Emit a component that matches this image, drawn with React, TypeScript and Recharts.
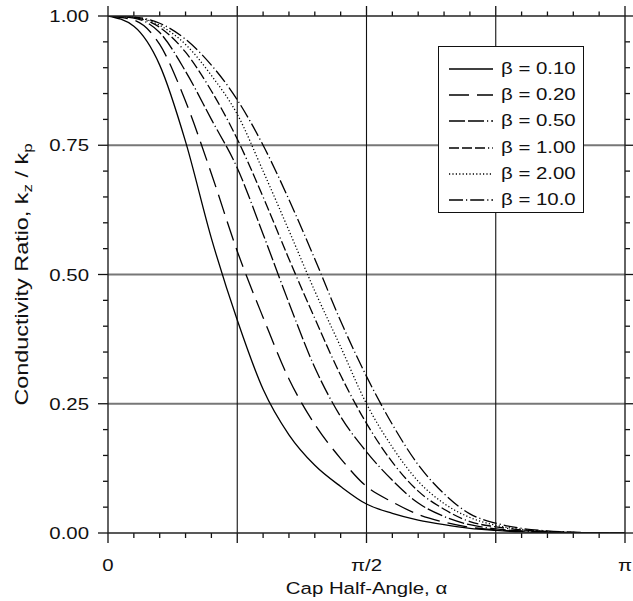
import React from 'react';
import { LineChart, Line, XAxis, YAxis, ReferenceLine, Legend } from 'recharts';

// Cap half-angle, expressed as a fraction of pi
const alphaOverPi = [0, 0.05, 0.1, 0.15, 0.2, 0.25, 0.3, 0.35, 0.4, 0.45, 0.5, 0.55, 0.6, 0.65, 0.7, 0.75, 0.8, 0.85, 0.9, 0.95, 1.0];

// Conductivity ratio kz/kp for each beta
const beta010 = [1.0, 0.98, 0.905, 0.757, 0.57, 0.412, 0.278, 0.19, 0.131, 0.09, 0.056, 0.038, 0.025, 0.016, 0.009, 0.005, 0.002, 0.001, 0.0004, 0.0001, 0];
const beta020 = [1.0, 0.992, 0.945, 0.835, 0.695, 0.545, 0.417, 0.298, 0.21, 0.144, 0.09, 0.06, 0.036, 0.021, 0.011, 0.006, 0.003, 0.0015, 0.0005, 0.0001, 0];
const beta050 = [1.0, 0.996, 0.968, 0.893, 0.8, 0.706, 0.578, 0.445, 0.32, 0.225, 0.157, 0.102, 0.058, 0.032, 0.016, 0.008, 0.004, 0.002, 0.0008, 0.0002, 0];
const beta100 = [1.0, 0.997, 0.978, 0.93, 0.855, 0.762, 0.65, 0.53, 0.415, 0.305, 0.212, 0.137, 0.081, 0.046, 0.022, 0.012, 0.006, 0.003, 0.001, 0.0003, 0];
const beta200 = [1.0, 0.998, 0.982, 0.945, 0.885, 0.81, 0.7, 0.585, 0.468, 0.36, 0.25, 0.166, 0.1, 0.057, 0.03, 0.015, 0.007, 0.003, 0.001, 0.0003, 0];
const beta10 = [1.0, 0.998, 0.986, 0.955, 0.905, 0.838, 0.75, 0.645, 0.53, 0.41, 0.303, 0.21, 0.132, 0.076, 0.037, 0.019, 0.009, 0.004, 0.0015, 0.0004, 0];

const seriesKeys = ['b010', 'b020', 'b050', 'b100', 'b200', 'b10'];
const seriesLabels = ['β = 0.10', 'β = 0.20', 'β = 0.50', 'β = 1.00', 'β = 2.00', 'β = 10.0'];
const seriesDashes = ['', '20 8', '16 3 16 3 1.2 3', '10 3 10 3 10 3 1.2 3', '1.2 2.2', '14 3 1.2 3'];

const xTicks = [0, 0.05, 0.1, 0.15, 0.2, 0.25, 0.3, 0.35, 0.4, 0.45, 0.5, 0.55, 0.6, 0.65, 0.7, 0.75, 0.8, 0.85, 0.9, 0.95, 1.0];
const xTickLabelValues = [0, 0.5, 1];
const xTickLabelTexts = ['0', 'π/2', 'π'];
const yTicks = [0, 0.05, 0.1, 0.15, 0.2, 0.25, 0.3, 0.35, 0.4, 0.45, 0.5, 0.55, 0.6, 0.65, 0.7, 0.75, 0.8, 0.85, 0.9, 0.95, 1.0];
const xGrid = [0.25, 0.5, 0.75];
const yGrid = [0.25, 0.5, 0.75];

const seriesValues = [beta010, beta020, beta050, beta100, beta200, beta10];
const data = alphaOverPi.map((a, i) => {
  const row: Record<string, number> = { a };
  seriesKeys.forEach((k, j) => {
    row[k] = seriesValues[j][i];
  });
  return row;
});

const FONT = '"Liberation Sans", Arial, Helvetica, sans-serif';
const FS = 17;
const SX = 1.2;
const INK = '#111';

// tick mark lengths expressed in axis units (plot is 517 px for one unit on both axes)
const PX = 1 / 517;
const MINOR_LEN = 5 * PX;
const MAJOR_LEN = 10 * PX;

const isMajor = (v: number) => Math.abs(v * 4 - Math.round(v * 4)) < 1e-6;

const BottomTick = (props: any) => {
  const { x, y, payload } = props;
  const v = payload.value as number;
  const idx = xTickLabelValues.findIndex((t) => Math.abs(t - v) < 1e-6);
  if (idx < 0) return <g />;
  return (
    <text transform={`translate(${x},${y + 38}) scale(${SX},1)`} textAnchor="middle" fontSize={FS} fontFamily={FONT} fill={INK} stroke="none">
      {xTickLabelTexts[idx]}
    </text>
  );
};

const LeftTick = (props: any) => {
  const { x, y, payload } = props;
  const v = payload.value as number;
  if (!isMajor(v)) return <g />;
  return (
    <text transform={`translate(${x - 19},${y + 6}) scale(${SX},1)`} textAnchor="end" fontSize={FS} fontFamily={FONT} fill={INK} stroke="none">
      {v.toFixed(2)}
    </text>
  );
};

const XLabel = (props: any) => {
  const vb = props.viewBox || { x: 108, y: 533, width: 517, height: 50 };
  const cx = vb.x + vb.width / 2;
  return (
    <text transform={`translate(${cx},${vb.y + 61}) scale(${SX},1)`} textAnchor="middle" fontSize={FS} fontFamily={FONT} fill={INK}>
      Cap Half-Angle, α
    </text>
  );
};

const YLabel = (props: any) => {
  const vb = props.viewBox || { x: 0, y: 16, width: 108, height: 517 };
  const cy = vb.y + vb.height / 2;
  return (
    <text transform={`translate(28,${cy}) rotate(-90) scale(1.3,1)`} textAnchor="middle" fontSize={18} fontFamily={FONT} fill={INK}>
      Conductivity Ratio, k
      <tspan fontSize={13} dy={4}>z</tspan>
      <tspan dy={-4}> / k</tspan>
      <tspan fontSize={13} dy={4}>p</tspan>
    </text>
  );
};

const LegendBox = () => (
  <div
    style={{
      width: 146,
      height: 167,
      boxSizing: 'border-box',
      border: '1.3px solid #111',
      background: '#fff',
      position: 'relative',
    }}
  >
    {seriesLabels.map((lab, i) => (
      <div key={lab} style={{ position: 'absolute', left: 0, top: 22 + i * 26.2 - 10, height: 20, width: 144 }}>
        <svg width={60} height={20} style={{ position: 'absolute', left: 0, top: 0 }}>
          <line x1={10} x2={54} y1={10} y2={10} stroke="#000" strokeWidth={1.3} strokeDasharray={seriesDashes[i] || undefined} />
        </svg>
        <span
          style={{
            position: 'absolute',
            left: 62,
            top: 0,
            lineHeight: '20px',
            fontSize: FS,
            fontFamily: FONT,
            color: INK,
            whiteSpace: 'nowrap',
            transform: `scaleX(${SX})`,
            transformOrigin: 'left center',
          }}
        >
          {lab}
        </span>
      </div>
    ))}
  </div>
);

const tickMarkProps = { xAxisId: 'b', yAxisId: 'l', stroke: INK, strokeWidth: 1.3, ifOverflow: 'visible' as const };

export default function App() {
  return (
    <div style={{ position: 'absolute', left: 0, top: 0, background: '#fff' }}>
      <LineChart width={633} height={601} data={data} margin={{ top: 15, right: 7, bottom: 18, left: 0 }}>
        <XAxis
          xAxisId="b"
          dataKey="a"
          type="number"
          domain={[0, 1]}
          allowDataOverflow
          ticks={xTicks}
          interval={0}
          height={50}
          tickSize={0}
          tickMargin={0}
          tickLine={false}
          tick={<BottomTick />}
          axisLine={{ stroke: '#222', strokeWidth: 1.6 }}
          label={<XLabel />}
        />
        <XAxis
          xAxisId="t"
          dataKey="a"
          orientation="top"
          type="number"
          domain={[0, 1]}
          allowDataOverflow
          ticks={xTicks}
          interval={0}
          height={1}
          tick={false}
          tickLine={false}
          axisLine={{ stroke: '#222', strokeWidth: 1.4 }}
        />
        <YAxis
          yAxisId="l"
          type="number"
          domain={[0, 1]}
          allowDataOverflow
          ticks={yTicks}
          interval={0}
          width={108}
          tickSize={0}
          tickMargin={0}
          tickLine={false}
          tick={<LeftTick />}
          axisLine={{ stroke: '#222', strokeWidth: 1.4 }}
          label={<YLabel />}
        />
        <YAxis
          yAxisId="r"
          orientation="right"
          type="number"
          domain={[0, 1]}
          allowDataOverflow
          ticks={yTicks}
          interval={0}
          width={1}
          tick={false}
          tickLine={false}
          axisLine={{ stroke: '#222', strokeWidth: 1.4 }}
        />
        {yGrid.map((v) => (
          <ReferenceLine key={'y' + v} xAxisId="b" yAxisId="l" y={v} stroke="#777" strokeWidth={1.8} />
        ))}
        {xGrid.map((v) => (
          <ReferenceLine key={'x' + v} xAxisId="b" yAxisId="l" x={v} stroke="#111" strokeWidth={1.1} />
        ))}
        {/* tick marks on all four sides, outward */}
        {xTicks.map((v) => {
          const len = isMajor(v) ? MAJOR_LEN : MINOR_LEN;
          return (
            <ReferenceLine
              key={'tb' + v}
              {...tickMarkProps}
              segment={[
                { x: v, y: 0 },
                { x: v, y: -len },
              ]}
            />
          );
        })}
        {xTicks.map((v) => {
          const len = isMajor(v) ? MAJOR_LEN : MINOR_LEN * 0.9;
          return (
            <ReferenceLine
              key={'tt' + v}
              {...tickMarkProps}
              segment={[
                { x: v, y: 1 },
                { x: v, y: 1 + len },
              ]}
            />
          );
        })}
        {yTicks.map((v) => {
          const len = isMajor(v) ? MAJOR_LEN : MINOR_LEN;
          return (
            <ReferenceLine
              key={'tl' + v}
              {...tickMarkProps}
              segment={[
                { x: 0, y: v },
                { x: -len, y: v },
              ]}
            />
          );
        })}
        {yTicks.map((v) => {
          const len = isMajor(v) ? MAJOR_LEN : MINOR_LEN;
          return (
            <ReferenceLine
              key={'tr' + v}
              {...tickMarkProps}
              segment={[
                { x: 1, y: v },
                { x: 1 + len, y: v },
              ]}
            />
          );
        })}
        {seriesKeys.map((k, i) => (
          <Line
            key={k}
            xAxisId="b"
            yAxisId="l"
            dataKey={k}
            name={seriesLabels[i]}
            type="monotone"
            stroke="#000"
            strokeWidth={1.3}
            strokeDasharray={seriesDashes[i] || undefined}
            dot={false}
            activeDot={false}
            isAnimationActive={false}
          />
        ))}
        <Legend
          layout="vertical"
          verticalAlign="middle"
          align="center"
          content={<LegendBox />}
          wrapperStyle={{ position: 'absolute', left: 438, top: 46, width: 146, height: 167 }}
        />
      </LineChart>
    </div>
  );
}
